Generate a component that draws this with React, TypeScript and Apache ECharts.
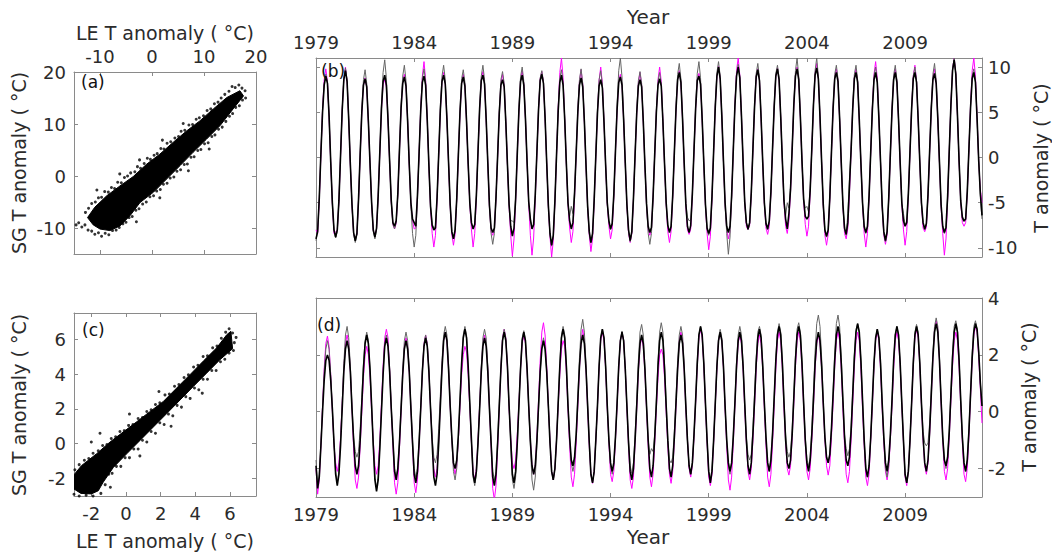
import React, { useEffect, useRef } from "react";
import * as echarts from "echarts";

const START_YEAR = 1979;
const yearTicks = [1979, 1984, 1989, 1994, 1999, 2004, 2009];
const aTicks = [-10, 0, 10, 20];
const bYTicks = [-10, -5, 0, 5, 10];
const cTicks = [-2, 0, 2, 4, 6];
const dYTicks = [-2, 0, 2, 4];

// Panel (b): monthly T anomaly, one row per year (Jan..Dec), 1979-2012
const bBlack: number[][] = [
  [-9.0, -8.2, -4.5, 0.5, 5.0, 8.0, 9.0, 8.2, 4.6, -0.5, -5.0, -8.0],
  [-8.8, -8.0, -4.8, 0.2, 5.2, 8.6, 9.6, 8.4, 4.2, -0.8, -5.2, -8.3],
  [-9.2, -8.4, -4.6, 0.4, 5.0, 8.0, 8.7, 7.8, 4.0, -0.6, -5.0, -8.0],
  [-8.8, -7.8, -4.2, 0.6, 5.4, 8.4, 9.1, 8.0, 4.2, -0.4, -4.8, -7.2],
  [-7.6, -7.0, -4.0, 0.8, 5.5, 8.2, 8.9, 7.9, 4.0, -0.8, -5.0, -6.8],
  [-7.2, -7.6, -4.2, 0.5, 5.2, 8.3, 9.0, 8.0, 4.1, -0.9, -5.4, -7.5],
  [-8.0, -7.8, -4.4, 0.4, 5.3, 8.4, 9.1, 8.1, 4.3, -0.5, -5.2, -8.2],
  [-9.0, -8.0, -4.6, 0.3, 5.0, 8.2, 8.9, 7.9, 4.0, -0.7, -5.0, -7.2],
  [-7.9, -7.4, -4.2, 0.6, 5.4, 8.5, 9.1, 8.1, 4.2, -0.6, -5.3, -7.8],
  [-8.3, -7.8, -4.4, 0.2, 4.9, 8.0, 8.6, 7.8, 3.9, -0.8, -5.2, -7.6],
  [-8.7, -7.8, -4.6, 0.4, 5.2, 8.4, 9.1, 8.0, 4.3, -0.5, -4.9, -6.8],
  [-7.9, -7.4, -4.1, 0.6, 5.3, 8.5, 9.2, 8.2, 4.4, -0.6, -5.3, -8.4],
  [-9.7, -8.6, -4.8, 0.3, 5.1, 8.3, 9.1, 8.0, 4.2, -0.7, -5.0, -7.0],
  [-7.9, -7.2, -4.0, 0.5, 5.0, 8.0, 8.8, 7.8, 4.0, -0.8, -5.4, -8.2],
  [-9.4, -8.4, -4.7, 0.2, 4.9, 7.9, 8.6, 7.7, 3.9, -0.8, -5.0, -7.0],
  [-7.9, -7.3, -4.1, 0.7, 5.3, 8.3, 8.9, 8.0, 4.2, -0.6, -5.2, -8.0],
  [-9.2, -8.2, -4.5, 0.3, 4.9, 7.9, 8.6, 7.8, 4.0, -0.8, -5.1, -7.6],
  [-8.3, -7.7, -4.3, 0.4, 5.0, 8.0, 8.7, 7.9, 4.0, -0.7, -5.0, -7.5],
  [-8.3, -7.6, -4.2, 0.6, 5.3, 8.6, 9.4, 8.3, 4.3, -0.6, -5.1, -7.6],
  [-8.3, -7.5, -4.0, 0.8, 5.4, 8.5, 9.0, 8.1, 4.2, -0.6, -5.2, -7.8],
  [-8.4, -7.8, -4.3, 0.7, 5.6, 9.0, 10.0, 8.7, 4.6, -0.4, -5.0, -7.6],
  [-8.3, -7.6, -4.2, 0.8, 5.7, 9.0, 10.0, 8.8, 4.6, -0.4, -4.9, -7.2],
  [-7.9, -7.2, -3.9, 0.9, 5.6, 8.9, 9.7, 8.5, 4.4, -0.5, -5.0, -7.3],
  [-7.9, -7.0, -3.8, 1.0, 5.6, 9.0, 9.8, 8.6, 4.5, -0.4, -4.8, -6.8],
  [-7.9, -6.2, -3.5, 1.0, 5.8, 9.0, 9.8, 8.6, 4.5, -0.4, -4.6, -6.5],
  [-6.8, -6.5, -3.6, 1.0, 5.8, 9.1, 9.9, 8.7, 4.5, -0.5, -5.2, -8.0],
  [-8.7, -8.0, -4.4, 0.6, 5.4, 8.7, 9.4, 8.4, 4.3, -0.6, -5.2, -7.8],
  [-8.5, -7.2, -3.2, 0.8, 5.4, 8.7, 9.4, 8.3, 4.2, -0.6, -5.0, -7.6],
  [-8.3, -7.6, -4.2, 0.6, 5.3, 8.6, 9.4, 8.3, 4.3, -0.5, -5.3, -8.2],
  [-9.2, -8.2, -4.5, 0.4, 5.2, 8.6, 9.4, 8.3, 4.2, -0.6, -5.0, -7.0],
  [-7.6, -7.2, -4.0, 0.7, 5.4, 8.7, 9.4, 8.3, 4.2, -0.5, -5.0, -7.2],
  [-7.9, -7.3, -4.1, 0.7, 5.4, 8.6, 9.3, 8.2, 4.3, -0.5, -5.2, -7.6],
  [-8.3, -7.7, -4.3, 0.8, 5.8, 9.6, 10.8, 9.2, 4.7, -0.4, -4.8, -6.6],
  [-7.0, -6.8, -3.8, 0.9, 5.5, 8.7, 9.4, 8.3, 4.3, -0.4, -4.0, -6.4],
];

const bGray: number[][] = [
  [-9.2, -8.0, -4.4, 0.6, 5.2, 8.2, 9.2, 8.3, 4.6, -0.5, -5.1, -8.1],
  [-8.9, -8.2, -4.7, 0.3, 5.3, 8.8, 9.9, 8.6, 4.3, -0.8, -5.3, -8.5],
  [-9.4, -8.5, -4.6, 0.5, 5.4, 8.6, 9.7, 8.2, 4.1, -0.6, -5.1, -8.2],
  [-9.0, -8.0, -4.3, 0.7, 5.8, 9.4, 10.8, 8.8, 4.4, -0.4, -4.9, -7.4],
  [-7.9, -7.2, -4.1, 0.9, 5.8, 9.0, 10.2, 8.5, 4.2, -0.8, -5.4, -8.4],
  [-9.9, -8.6, -4.4, 0.5, 5.4, 8.8, 9.8, 8.4, 4.2, -0.9, -5.4, -7.4],
  [-7.8, -7.6, -4.4, 0.5, 5.6, 9.0, 10.2, 8.6, 4.4, -0.5, -5.2, -8.2],
  [-9.0, -8.1, -4.6, 0.4, 5.3, 8.7, 9.7, 8.3, 4.1, -0.7, -5.1, -7.3],
  [-7.8, -7.4, -4.2, 0.7, 5.7, 9.0, 10.2, 8.6, 4.3, -0.6, -5.5, -8.4],
  [-9.6, -8.4, -4.5, 0.3, 5.2, 8.6, 9.5, 8.2, 4.0, -0.8, -5.3, -7.0],
  [-7.0, -7.2, -4.4, 0.5, 5.5, 8.9, 10.0, 8.4, 4.4, -0.5, -5.0, -7.0],
  [-7.8, -7.5, -4.2, 0.7, 5.5, 8.8, 9.6, 8.4, 4.4, -0.6, -5.4, -8.6],
  [-9.8, -8.7, -4.8, 0.4, 5.4, 8.8, 9.7, 8.3, 4.3, -0.7, -5.1, -6.5],
  [-5.4, -6.2, -3.8, 0.6, 5.4, 8.6, 9.8, 8.2, 4.1, -0.8, -5.4, -8.4],
  [-9.4, -8.5, -4.6, 0.3, 5.3, 8.6, 9.6, 8.1, 4.0, -0.8, -5.1, -7.2],
  [-8.0, -7.4, -4.2, 0.8, 5.9, 9.6, 11.0, 8.9, 4.4, -0.6, -5.3, -8.2],
  [-9.3, -8.3, -4.5, 0.4, 5.2, 8.5, 9.5, 8.2, 4.1, -0.8, -5.3, -8.4],
  [-9.6, -8.4, -4.4, 0.5, 5.2, 8.4, 9.4, 8.1, 4.0, -0.7, -5.1, -7.4],
  [-8.2, -7.7, -4.2, 0.7, 5.7, 9.2, 10.4, 8.7, 4.4, -0.6, -5.0, -6.6],
  [-7.0, -6.9, -3.9, 0.9, 5.8, 9.3, 10.6, 8.8, 4.3, -0.6, -5.2, -8.0],
  [-8.6, -7.9, -4.3, 0.8, 5.9, 9.4, 10.6, 9.0, 4.7, -0.4, -5.2, -8.4],
  [-10.7, -8.8, -4.5, 0.8, 5.8, 9.2, 10.3, 8.9, 4.6, -0.4, -4.9, -7.2],
  [-8.0, -7.3, -3.9, 1.0, 5.8, 9.3, 10.4, 8.8, 4.5, -0.5, -5.0, -7.4],
  [-8.0, -7.1, -3.8, 1.0, 5.8, 9.3, 10.2, 8.8, 4.5, -0.4, -4.8, -6.4],
  [-5.0, -5.6, -3.2, 1.2, 6.0, 9.6, 11.0, 9.0, 4.6, -0.4, -4.6, -5.6],
  [-5.4, -6.0, -3.4, 1.0, 6.0, 9.6, 11.0, 9.0, 4.5, -0.5, -5.3, -8.2],
  [-8.8, -8.1, -4.4, 0.7, 5.6, 9.2, 10.2, 8.7, 4.3, -0.6, -5.3, -8.0],
  [-8.6, -6.2, -2.3, 0.9, 5.6, 9.2, 10.2, 8.6, 4.2, -0.6, -5.1, -7.8],
  [-8.4, -7.7, -4.2, 0.7, 5.5, 9.0, 10.0, 8.5, 4.3, -0.5, -5.4, -8.4],
  [-9.3, -8.3, -4.5, 0.5, 5.4, 9.1, 10.2, 8.6, 4.2, -0.6, -5.1, -6.2],
  [-7.4, -7.1, -4.0, 0.8, 5.6, 9.0, 10.0, 8.5, 4.2, -0.5, -5.1, -7.3],
  [-8.0, -7.4, -4.1, 0.8, 5.7, 9.2, 10.4, 8.6, 4.3, -0.5, -5.3, -7.7],
  [-8.4, -7.8, -4.3, 0.9, 5.9, 9.8, 11.0, 9.3, 4.7, -0.4, -4.9, -6.8],
  [-7.1, -6.9, -3.8, 1.0, 5.6, 9.0, 9.8, 8.5, 4.3, -0.4, -4.2, -6.8],
];

const bMagenta: number[][] = [
  [-8.0, -8.4, -4.8, 0.3, 5.3, 8.6, 9.8, 8.4, 4.4, -0.6, -5.2, -8.4],
  [-8.2, -8.1, -4.9, 0.1, 5.2, 8.7, 10.0, 8.4, 4.1, -0.9, -5.4, -8.5],
  [-9.0, -8.5, -4.7, 0.2, 5.0, 8.0, 8.8, 7.8, 3.9, -0.7, -5.2, -8.1],
  [-8.6, -7.9, -4.3, 0.5, 5.3, 8.1, 8.6, 7.8, 4.1, -0.5, -5.0, -7.4],
  [-7.9, -7.3, -4.1, 0.7, 5.4, 8.3, 9.2, 8.0, 4.0, -0.9, -5.2, -7.0],
  [-7.9, -7.8, -4.3, 0.4, 5.5, 9.0, 10.6, 8.6, 4.1, -1.0, -5.6, -8.4],
  [-9.9, -8.6, -4.6, 0.3, 5.2, 8.5, 9.4, 8.2, 4.2, -0.6, -5.4, -8.5],
  [-9.7, -8.5, -4.7, 0.2, 4.9, 8.2, 9.2, 8.0, 3.9, -0.8, -5.2, -8.0],
  [-9.9, -8.4, -4.5, 0.5, 5.3, 8.6, 9.5, 8.2, 4.1, -0.7, -5.5, -8.2],
  [-8.6, -8.0, -4.5, 0.1, 4.9, 8.2, 9.2, 8.0, 3.9, -0.9, -5.4, -8.6],
  [-10.9, -9.0, -4.8, 0.3, 5.1, 8.5, 9.6, 8.1, 4.2, -0.6, -5.2, -8.6],
  [-10.8, -8.9, -4.6, 0.5, 5.3, 8.7, 9.5, 8.3, 4.3, -0.7, -5.5, -8.8],
  [-11.0, -9.2, -5.0, 0.2, 5.5, 9.4, 11.0, 8.8, 4.2, -0.8, -5.2, -7.8],
  [-9.4, -8.2, -4.4, 0.4, 5.1, 8.4, 9.7, 8.1, 3.9, -0.9, -5.6, -8.6],
  [-10.4, -9.0, -4.9, 0.1, 5.0, 8.5, 10.0, 8.2, 3.9, -0.9, -5.2, -7.6],
  [-9.0, -8.0, -4.4, 0.6, 5.2, 8.4, 9.2, 8.1, 4.1, -0.7, -5.4, -8.4],
  [-9.4, -8.4, -4.6, 0.2, 4.9, 8.2, 9.4, 8.0, 3.9, -0.9, -5.3, -8.0],
  [-8.6, -8.0, -4.4, 0.3, 5.1, 8.6, 10.0, 8.4, 4.0, -0.8, -5.2, -8.2],
  [-9.4, -8.2, -4.4, 0.5, 5.3, 8.7, 9.6, 8.3, 4.2, -0.7, -5.3, -8.0],
  [-8.5, -7.9, -4.2, 0.7, 5.4, 8.6, 9.3, 8.2, 4.1, -0.7, -5.4, -8.4],
  [-10.2, -8.7, -4.6, 0.6, 5.6, 9.0, 10.1, 8.8, 4.5, -0.5, -5.2, -8.0],
  [-9.0, -8.2, -4.4, 0.7, 5.9, 9.6, 11.0, 9.1, 4.5, -0.5, -5.0, -7.6],
  [-8.0, -7.5, -4.1, 0.8, 5.6, 9.0, 9.8, 8.6, 4.3, -0.6, -5.2, -7.8],
  [-8.5, -7.6, -4.0, 0.9, 5.6, 9.0, 9.9, 8.6, 4.4, -0.5, -5.0, -7.6],
  [-8.4, -7.0, -3.8, 0.9, 5.7, 9.1, 10.0, 8.7, 4.4, -0.5, -4.8, -7.4],
  [-8.7, -7.6, -3.9, 0.9, 5.8, 9.3, 10.4, 8.8, 4.4, -0.6, -5.4, -8.6],
  [-9.7, -8.5, -4.6, 0.5, 5.4, 8.9, 9.8, 8.5, 4.2, -0.7, -5.4, -8.4],
  [-9.0, -7.8, -4.0, 0.7, 5.4, 8.9, 9.8, 8.4, 4.1, -0.7, -5.2, -8.4],
  [-9.9, -8.4, -4.5, 0.5, 5.6, 9.2, 10.6, 8.8, 4.2, -0.6, -5.5, -8.6],
  [-9.6, -8.6, -4.7, 0.3, 5.3, 8.8, 9.8, 8.4, 4.1, -0.7, -5.2, -8.0],
  [-9.7, -8.2, -4.3, 0.6, 5.5, 9.0, 10.2, 8.5, 4.1, -0.6, -5.2, -7.8],
  [-8.2, -7.7, -4.3, 0.6, 5.4, 8.8, 9.8, 8.3, 4.2, -0.6, -5.4, -8.4],
  [-10.8, -9.0, -4.7, 0.7, 5.9, 9.8, 11.0, 9.3, 4.6, -0.5, -5.0, -7.2],
  [-7.6, -7.2, -4.0, 0.8, 5.8, 9.6, 11.0, 9.0, 4.4, -0.5, -3.6, -5.0],
];

// Panel (d): monthly T anomaly, one row per year (Jan..Dec), 1979-2012
const dBlack: number[][] = [
  [-1.9, -2.7, -2.3, -1.2, 0.0, 1.1, 1.8, 2.0, 1.8, 1.1, 0.1, -1.1],
  [-2.2, -2.6, -2.2, -1.2, 0.1, 1.4, 2.2, 2.5, 2.2, 1.4, 0.1, -1.0],
  [-1.9, -2.2, -1.9, -1.0, 0.3, 1.5, 2.4, 2.7, 2.4, 1.5, 0.2, -1.2],
  [-2.4, -2.8, -2.4, -1.3, 0.0, 1.3, 2.3, 2.6, 2.3, 1.4, 0.1, -1.0],
  [-2.1, -2.4, -2.0, -1.1, 0.1, 1.3, 2.2, 2.5, 2.2, 1.4, 0.1, -1.1],
  [-2.2, -2.5, -2.1, -1.1, 0.1, 1.4, 2.3, 2.6, 2.3, 1.4, 0.1, -1.1],
  [-2.3, -2.6, -2.2, -1.1, 0.2, 1.5, 2.5, 2.8, 2.5, 1.5, 0.2, -0.9],
  [-1.8, -2.0, -1.7, -0.8, 0.4, 1.7, 2.6, 2.9, 2.6, 1.6, 0.3, -1.0],
  [-2.2, -2.5, -2.1, -1.1, 0.1, 1.4, 2.3, 2.6, 2.3, 1.4, 0.1, -1.1],
  [-2.3, -2.6, -2.2, -1.1, 0.2, 1.5, 2.5, 2.8, 2.5, 1.6, 0.2, -1.0],
  [-2.2, -2.5, -2.1, -1.1, 0.2, 1.5, 2.5, 2.8, 2.5, 1.5, 0.2, -1.0],
  [-1.9, -2.2, -1.9, -1.0, 0.2, 1.4, 2.2, 2.5, 2.2, 1.4, 0.2, -1.1],
  [-2.1, -2.4, -2.0, -1.0, 0.3, 1.6, 2.6, 2.9, 2.6, 1.6, 0.2, -0.9],
  [-1.7, -1.9, -1.6, -0.8, 0.4, 1.6, 2.4, 2.7, 2.4, 1.5, 0.2, -1.1],
  [-2.2, -2.5, -2.1, -1.0, 0.2, 1.6, 2.6, 2.9, 2.6, 1.6, 0.2, -1.0],
  [-1.8, -2.1, -1.8, -0.9, 0.3, 1.6, 2.5, 2.8, 2.5, 1.5, 0.2, -1.1],
  [-2.1, -2.4, -2.0, -1.0, 0.2, 1.5, 2.4, 2.7, 2.4, 1.5, 0.2, -1.0],
  [-2.0, -2.3, -1.9, -0.9, 0.3, 1.6, 2.5, 2.8, 2.5, 1.5, 0.2, -1.0],
  [-2.0, -2.3, -1.9, -0.9, 0.3, 1.5, 2.4, 2.7, 2.4, 1.5, 0.2, -1.0],
  [-1.9, -2.2, -1.8, -0.8, 0.4, 1.7, 2.7, 3.0, 2.7, 1.7, 0.3, -1.0],
  [-2.1, -2.5, -2.1, -1.0, 0.3, 1.6, 2.5, 2.8, 2.5, 1.6, 0.2, -1.0],
  [-1.8, -2.1, -1.8, -0.9, 0.3, 1.6, 2.5, 2.8, 2.5, 1.6, 0.3, -1.0],
  [-1.9, -2.2, -1.8, -0.8, 0.4, 1.7, 2.6, 2.9, 2.6, 1.6, 0.3, -0.9],
  [-1.8, -2.1, -1.7, -0.8, 0.5, 1.8, 2.7, 3.0, 2.7, 1.7, 0.3, -1.0],
  [-1.8, -2.0, -1.7, -0.8, 0.5, 1.8, 2.7, 3.0, 2.7, 1.7, 0.3, -1.0],
  [-1.8, -2.1, -1.7, -0.8, 0.4, 1.7, 2.5, 2.8, 2.5, 1.6, 0.3, -0.9],
  [-1.6, -1.8, -1.5, -0.6, 0.6, 1.8, 2.7, 3.0, 2.7, 1.7, 0.4, -0.9],
  [-1.7, -1.9, -1.6, -0.7, 0.6, 1.9, 2.8, 3.1, 2.8, 1.8, 0.4, -1.0],
  [-2.0, -2.3, -1.9, -0.9, 0.4, 1.7, 2.6, 2.9, 2.6, 1.7, 0.3, -0.9],
  [-1.8, -2.1, -1.7, -0.8, 0.4, 1.8, 2.7, 3.0, 2.7, 1.7, 0.3, -1.0],
  [-2.2, -2.5, -2.1, -1.0, 0.3, 1.7, 2.7, 3.0, 2.7, 1.7, 0.3, -0.9],
  [-1.8, -2.1, -1.7, -0.7, 0.6, 1.9, 2.8, 3.1, 2.8, 1.8, 0.4, -0.9],
  [-1.7, -1.9, -1.6, -0.7, 0.6, 1.9, 2.8, 3.1, 2.8, 1.8, 0.4, -0.9],
  [-1.8, -2.1, -1.7, -0.7, 0.6, 1.9, 2.8, 3.1, 2.9, 2.1, 1.0, 0.2],
];

const dGray: number[][] = [
  [-1.7, -2.6, -2.2, -1.1, 0.2, 1.4, 2.2, 2.5, 2.2, 1.3, 0.1, -1.1],
  [-2.1, -2.5, -2.1, -1.0, 0.3, 1.7, 2.7, 3.0, 2.6, 1.6, 0.2, -0.9],
  [-1.4, -1.6, -1.4, -0.6, 0.5, 1.7, 2.5, 2.8, 2.5, 1.5, 0.2, -1.2],
  [-2.3, -2.7, -2.3, -1.2, 0.1, 1.4, 2.4, 2.7, 2.4, 1.5, 0.2, -1.0],
  [-2.0, -2.3, -2.0, -1.0, 0.2, 1.5, 2.5, 2.8, 2.5, 1.5, 0.2, -1.0],
  [-2.0, -2.3, -2.0, -1.0, 0.2, 1.5, 2.4, 2.7, 2.4, 1.5, 0.2, -0.9],
  [-1.6, -1.8, -1.5, -0.6, 0.6, 1.8, 2.7, 3.0, 2.7, 1.7, 0.3, -1.0],
  [-2.1, -2.4, -2.0, -1.0, 0.4, 1.7, 2.7, 3.0, 2.7, 1.6, 0.2, -1.1],
  [-2.3, -2.6, -2.2, -1.1, 0.2, 1.6, 2.6, 2.9, 2.6, 1.6, 0.2, -1.0],
  [-2.1, -2.4, -2.1, -1.0, 0.3, 1.6, 2.6, 2.9, 2.6, 1.6, 0.2, -1.1],
  [-2.4, -2.7, -2.3, -1.2, 0.2, 1.6, 2.6, 2.85, 2.5, 1.5, 0.1, -1.2],
  [-2.4, -2.76, -2.3, -1.2, 0.1, 1.4, 2.3, 2.6, 2.3, 1.4, 0.2, -1.0],
  [-2.1, -2.4, -2.0, -1.0, 0.3, 1.7, 2.7, 3.0, 2.7, 1.7, 0.3, -0.9],
  [-1.8, -2.1, -1.8, -0.8, 0.5, 1.9, 2.9, 3.25, 2.8, 1.7, 0.3, -1.0],
  [-2.2, -2.5, -2.1, -1.0, 0.2, 1.6, 2.6, 2.9, 2.6, 1.6, 0.2, -1.0],
  [-1.9, -2.2, -1.9, -0.9, 0.3, 1.6, 2.5, 2.84, 2.5, 1.5, 0.2, -1.0],
  [-1.9, -2.17, -1.8, -0.8, 0.4, 1.8, 2.8, 3.07, 2.7, 1.6, 0.2, -1.0],
  [-1.5, -1.3, -1.4, -0.8, 0.4, 1.8, 2.8, 3.13, 2.8, 1.7, 0.3, -1.0],
  [-1.7, -1.8, -1.6, -0.7, 0.5, 1.8, 2.7, 3.0, 2.7, 1.7, 0.3, -1.0],
  [-1.9, -2.2, -1.8, -0.8, 0.4, 1.8, 2.7, 3.0, 2.7, 1.7, 0.3, -1.0],
  [-2.1, -2.4, -2.0, -1.0, 0.3, 1.6, 2.6, 2.9, 2.6, 1.6, 0.2, -1.0],
  [-1.9, -2.2, -1.8, -0.8, 0.4, 1.8, 2.7, 3.0, 2.7, 1.7, 0.3, -0.9],
  [-1.5, -1.7, -1.5, -0.6, 0.6, 1.9, 2.8, 3.0, 2.7, 1.7, 0.3, -1.0],
  [-1.8, -2.1, -1.7, -0.7, 0.5, 1.9, 2.8, 3.1, 2.8, 1.8, 0.4, -0.8],
  [-1.4, -1.6, -1.4, -0.6, 0.6, 2.0, 2.9, 3.13, 2.8, 1.8, 0.4, -0.9],
  [-1.7, -1.9, -1.6, -0.6, 0.7, 2.1, 3.1, 3.4, 3.0, 1.9, 0.4, -0.9],
  [-1.6, -1.8, -1.5, -0.6, 0.7, 2.1, 3.1, 3.4, 3.0, 1.9, 0.4, -0.8],
  [-1.3, -1.55, -1.3, -0.5, 0.7, 2.0, 2.9, 3.1, 2.8, 1.8, 0.4, -1.0],
  [-2.0, -2.3, -1.9, -0.9, 0.4, 1.7, 2.6, 2.9, 2.6, 1.7, 0.3, -0.9],
  [-2.0, -2.3, -1.9, -0.9, 0.4, 1.8, 2.7, 3.0, 2.7, 1.7, 0.3, -1.0],
  [-2.2, -2.5, -2.1, -1.0, 0.4, 1.8, 2.8, 3.07, 2.8, 1.7, 0.3, -0.7],
  [-1.1, -1.2, -1.1, -0.4, 0.8, 2.1, 3.0, 3.3, 3.0, 1.9, 0.5, -0.8],
  [-1.7, -2.0, -1.6, -0.6, 0.7, 2.1, 3.0, 3.2, 2.9, 1.9, 0.4, -0.9],
  [-1.8, -2.1, -1.7, -0.6, 0.7, 2.1, 3.0, 3.2, 2.9, 2.1, 1.0, 0.2],
];

const dMagenta: number[][] = [
  [-2.0, -2.9, -2.4, -1.2, 0.2, 1.5, 2.4, 2.66, 2.3, 1.3, 0.0, -1.2],
  [-1.8, -2.1, -1.8, -0.9, 0.3, 1.5, 2.4, 2.7, 2.4, 1.4, 0.1, -1.3],
  [-2.4, -2.7, -2.3, -1.2, 0.0, 1.2, 2.0, 2.3, 2.0, 1.2, 0.0, -1.0],
  [-1.9, -2.2, -1.9, -1.0, 0.3, 1.6, 2.6, 2.9, 2.6, 1.5, 0.1, -1.2],
  [-2.5, -2.9, -2.5, -1.3, 0.0, 1.3, 2.3, 2.6, 2.3, 1.4, 0.1, -1.2],
  [-2.5, -2.85, -2.4, -1.2, 0.1, 1.4, 2.4, 2.7, 2.4, 1.4, 0.1, -1.0],
  [-2.0, -2.3, -2.0, -1.0, 0.3, 1.6, 2.5, 2.8, 2.5, 1.5, 0.2, -1.0],
  [-1.9, -2.2, -1.9, -1.0, 0.2, 1.3, 2.0, 2.3, 2.1, 1.3, 0.1, -1.1],
  [-2.1, -2.4, -2.0, -1.0, 0.2, 1.5, 2.4, 2.7, 2.4, 1.5, 0.1, -1.2],
  [-2.7, -3.1, -2.6, -1.3, 0.1, 1.5, 2.6, 2.9, 2.6, 1.5, 0.1, -0.9],
  [-1.8, -2.0, -1.7, -0.8, 0.3, 1.5, 2.4, 2.7, 2.4, 1.5, 0.2, -1.0],
  [-1.9, -2.2, -1.9, -0.9, 0.4, 1.8, 2.8, 3.13, 2.7, 1.6, 0.2, -1.0],
  [-2.1, -2.4, -2.0, -1.0, 0.2, 1.3, 2.2, 2.5, 2.3, 1.4, 0.1, -1.2],
  [-2.3, -2.64, -2.2, -1.1, 0.2, 1.5, 2.5, 2.9, 2.5, 1.5, 0.1, -1.2],
  [-2.2, -2.52, -2.1, -1.0, 0.2, 1.5, 2.5, 2.8, 2.5, 1.5, 0.1, -1.1],
  [-2.2, -2.46, -2.1, -1.0, 0.2, 1.5, 2.5, 2.8, 2.5, 1.5, 0.1, -1.2],
  [-2.4, -2.7, -2.3, -1.1, 0.1, 1.4, 2.3, 2.6, 2.3, 1.4, 0.1, -1.2],
  [-2.3, -2.64, -2.2, -1.1, 0.1, 1.2, 2.0, 2.2, 2.0, 1.2, 0.0, -1.2],
  [-2.2, -2.52, -2.1, -1.0, 0.2, 1.5, 2.5, 2.8, 2.5, 1.5, 0.1, -1.0],
  [-2.0, -2.3, -1.9, -0.9, 0.3, 1.6, 2.6, 2.9, 2.6, 1.6, 0.2, -1.1],
  [-2.3, -2.6, -2.2, -1.1, 0.2, 1.5, 2.5, 2.8, 2.5, 1.5, 0.1, -1.2],
  [-2.4, -2.76, -2.3, -1.1, 0.2, 1.5, 2.4, 2.7, 2.4, 1.5, 0.1, -1.1],
  [-2.1, -2.4, -2.0, -1.0, 0.2, 1.5, 2.4, 2.7, 2.4, 1.5, 0.1, -1.2],
  [-2.3, -2.64, -2.2, -1.1, 0.2, 1.5, 2.5, 2.8, 2.5, 1.5, 0.1, -1.1],
  [-2.0, -2.23, -1.9, -0.9, 0.3, 1.6, 2.5, 2.8, 2.5, 1.5, 0.2, -1.1],
  [-2.1, -2.4, -2.0, -1.0, 0.2, 1.5, 2.4, 2.7, 2.4, 1.5, 0.2, -1.0],
  [-1.9, -2.23, -1.9, -0.9, 0.3, 1.6, 2.5, 2.8, 2.5, 1.5, 0.1, -1.2],
  [-2.2, -2.5, -2.1, -1.0, 0.3, 1.6, 2.5, 2.8, 2.5, 1.5, 0.1, -1.2],
  [-2.3, -2.6, -2.2, -1.0, 0.2, 1.6, 2.5, 2.8, 2.5, 1.5, 0.1, -1.1],
  [-2.1, -2.4, -2.0, -1.0, 0.2, 1.5, 2.5, 2.8, 2.5, 1.6, 0.2, -1.1],
  [-2.3, -2.6, -2.1, -1.0, 0.3, 1.6, 2.6, 2.9, 2.6, 1.6, 0.2, -1.0],
  [-1.9, -2.2, -1.8, -0.8, 0.5, 1.9, 2.9, 3.2, 2.9, 1.8, 0.3, -1.0],
  [-2.1, -2.4, -2.0, -0.9, 0.4, 1.6, 2.5, 2.8, 2.5, 1.6, 0.2, -1.1],
  [-2.2, -2.46, -2.0, -0.9, 0.5, 1.8, 2.7, 3.0, 2.8, 1.9, 0.8, -0.4],
];

// Panel (a): dense core of the LE vs SG cloud (outline) and sparse points around it
const aCoreOutline: number[][] = [
  [-12.4, -8.0], [-11.0, -6.0], [-8.7, -3.8], [-6.15, -1.9], [-3.6, -0.1], [-1.0, 2.3],
  [1.5, 4.2], [4.1, 6.5], [6.7, 8.7], [9.2, 10.6], [11.8, 12.9], [14.4, 15.1], [16.9, 16.4],
  [17.6, 15.4], [15.6, 12.9], [13.1, 9.7], [10.5, 7.1], [7.9, 4.55], [5.4, 2.0], [2.8, -0.6],
  [0.3, -3.1], [-2.3, -5.1], [-4.2, -7.6], [-6.15, -9.6], [-8.1, -10.5], [-10.0, -10.2], [-11.3, -9.4],
];
const aPoints: number[][] = [
  [-12.8, -7.0], [-12.2, -6.2], [-11.6, -5.3], [-10.9, -5.0], [-10.3, -4.2], [-9.7, -4.1],
  [-9.1, -3.0], [-8.4, -3.1], [-7.8, -2.2], [-7.2, -2.4], [-6.6, -1.2], [-5.9, -1.3],
  [-5.3, -0.3], [-4.7, 0.0], [-4.1, 0.6], [-3.3, 0.8], [-2.8, 1.8], [-2.2, 1.5],
  [-1.5, 2.4], [-0.9, 3.4], [-0.3, 3.2], [0.4, 4.0], [1.0, 4.3], [1.7, 5.3], [2.3, 5.2],
  [2.9, 6.3], [3.6, 6.6], [4.4, 7.3], [5.1, 7.6], [5.6, 8.6], [6.3, 8.8], [7.1, 9.8],
  [7.8, 9.9], [8.5, 10.9], [9.1, 11.2], [9.9, 11.6], [10.6, 12.6], [11.3, 12.9],
  [12.0, 13.9], [12.7, 14.2], [13.3, 15.0], [14.0, 15.7], [14.8, 16.3], [15.4, 17.2],
  [16.0, 17.0], [16.7, 17.5], [17.3, 16.9], [17.9, 16.4],
  [-6.2, 0.4], [-2.4, 3.1], [2.0, 6.9], [6.0, 10.1], [-10.6, -2.7],
  [-14.1, -9.0], [-14.6, -9.4], [-13.5, -9.8], [-12.9, -9.4], [-12.3, -10.4], [-11.6, -10.6],
  [-11.0, -11.2], [-10.3, -10.9], [-9.7, -11.6], [-9.0, -11.0], [-8.3, -11.3], [-7.6, -10.5],
  [-6.9, -10.4], [-6.3, -9.9], [-5.6, -9.2], [-5.0, -8.9], [-4.4, -8.0], [-3.8, -7.8],
  [-3.1, -6.6], [-2.5, -6.3], [-1.8, -5.4], [-1.1, -5.0], [-0.4, -4.0], [0.3, -3.8],
  [0.9, -2.9], [1.6, -2.6], [2.2, -1.6], [2.9, -1.4], [3.5, -0.4], [4.2, -0.2],
  [4.8, 0.9], [5.5, 1.2], [6.2, 2.2], [6.8, 2.3], [7.5, 3.6], [8.1, 3.7], [8.8, 4.9],
  [9.4, 5.1], [10.1, 6.2], [10.8, 6.4], [11.5, 7.6], [12.1, 7.9], [12.8, 9.0],
  [13.5, 9.4], [14.2, 10.5], [14.9, 11.5], [15.5, 12.0], [16.1, 13.2], [16.8, 13.5],
  [17.4, 14.6], [18.0, 15.0],
  [1.5, -4.2], [7.0, 1.0], [-3.0, -8.8], [11.0, 5.2],
];

// Panel (c): dense core outline and sparse points around it
const cCoreOutline: number[][] = [
  [-3.1, -1.9], [-2.56, -1.25], [-1.69, -0.57], [-0.92, 0.1], [-0.15, 0.68], [0.62, 1.26],
  [1.38, 1.84], [2.15, 2.42], [2.92, 3.19], [3.69, 3.96], [4.46, 4.74], [5.23, 5.5],
  [5.81, 6.25], [6.05, 6.45], [6.15, 5.45], [5.42, 4.82], [4.65, 4.05], [3.88, 3.28],
  [3.12, 2.51], [2.35, 1.73], [1.58, 0.96], [0.81, 0.19], [0.04, -0.58], [-0.73, -1.36],
  [-1.31, -2.2], [-1.6, -2.7], [-2.0, -2.88], [-2.6, -2.85], [-3.0, -2.6], [-3.1, -2.2],
];
const cPoints: number[][] = [
  [-2.95, -1.5], [-2.7, -1.2], [-2.4, -0.95], [-2.15, -0.85], [-1.9, -0.55], [-1.6, -0.4],
  [-1.35, -0.1], [-1.1, -0.05], [-0.85, 0.3], [-0.6, 0.4], [-0.35, 0.7], [-0.1, 0.75],
  [0.15, 1.05], [0.4, 1.1], [0.7, 1.45], [0.95, 1.5], [1.2, 1.85], [1.45, 1.95], [1.7, 2.25],
  [1.95, 2.35], [2.25, 2.8], [2.5, 2.85], [2.8, 3.3], [3.05, 3.4], [3.35, 3.8], [3.6, 3.95],
  [3.9, 4.4], [4.15, 4.5], [4.45, 5.0], [4.7, 5.05], [5.0, 5.5], [5.25, 5.6], [5.5, 6.05],
  [5.75, 6.4], [5.95, 6.6], [6.15, 6.35], [6.35, 6.1], [6.25, 5.8],
  [-2.0, 0.1], [0.2, 1.7], [1.9, 3.0], [-1.5, 0.6],
  [-3.0, -2.9], [-2.7, -3.0], [-2.3, -2.95], [-1.9, -3.0], [-1.45, -2.85], [-1.2, -2.35],
  [-1.0, -1.75], [-0.8, -1.7], [-0.55, -1.3], [-0.3, -1.3], [-0.05, -0.8], [0.2, -0.8],
  [0.45, -0.3], [0.7, -0.3], [0.95, 0.2], [1.2, 0.1], [1.45, 0.7], [1.7, 0.6], [1.95, 1.2],
  [2.2, 1.1], [2.45, 1.7], [2.7, 1.6], [2.95, 2.2], [3.2, 2.1], [3.45, 2.7], [3.7, 2.6],
  [3.95, 3.2], [4.2, 3.1], [4.45, 3.7], [4.7, 3.7], [4.95, 4.2], [5.2, 4.2], [5.45, 4.7],
  [5.7, 4.85], [5.95, 5.2], [6.2, 5.35],
  [0.8, -0.7], [2.6, 1.0], [4.4, 2.9], [-0.9, -2.5],
];

const AXIS_COLOR = "#8a8a8a";
const LABEL_COLOR = "#2b2b2b";
const FONT = "DejaVu Sans";

function monthly(rows: number[][]): number[][] {
  const out: number[][] = [];
  rows.forEach((row, yi) => {
    row.forEach((v, mi) => {
      out.push([START_YEAR + yi + mi / 12, v]);
    });
  });
  return out;
}

function axis(
  gridIndex: number,
  position: string,
  min: number,
  max: number,
  ticks: number[],
  showLabel: boolean,
  margin: number
) {
  return {
    type: "value",
    gridIndex,
    position,
    min,
    max,
    axisLine: { show: true, onZero: false, lineStyle: { color: AXIS_COLOR, width: 1 } },
    axisTick: {
      show: true,
      inside: true,
      length: 4,
      customValues: ticks,
      lineStyle: { color: AXIS_COLOR, width: 1 },
    },
    axisLabel: {
      show: showLabel,
      customValues: ticks,
      color: LABEL_COLOR,
      fontSize: 18,
      fontFamily: FONT,
      margin,
      formatter: (v: number) => String(v),
    },
    splitLine: { show: false },
  };
}

function cloudSeries(outline: number[][], xi: number, yi: number) {
  return {
    type: "custom",
    xAxisIndex: xi,
    yAxisIndex: yi,
    clip: true,
    silent: true,
    data: [outline[0]],
    renderItem: (_p: any, api: any) => ({
      type: "polygon",
      shape: { points: outline.map((pt) => api.coord(pt)) },
      style: { fill: "#000", stroke: "#000", lineWidth: 1 },
    }),
  };
}

function pointSeries(points: number[][], xi: number, yi: number) {
  return {
    type: "scatter",
    xAxisIndex: xi,
    yAxisIndex: yi,
    data: points,
    symbol: "circle",
    symbolSize: 3,
    itemStyle: { color: "#000" },
    silent: true,
  };
}

function lineSeries(rows: number[][], xi: number, yi: number, color: string, width: number) {
  return {
    type: "line",
    xAxisIndex: xi,
    yAxisIndex: yi,
    data: monthly(rows),
    showSymbol: false,
    symbol: "none",
    clip: true,
    lineStyle: { color, width },
    silent: true,
  };
}

function titleText(x: number, y: number, text: string, size: number, rotate = 0) {
  return {
    type: "text",
    x,
    y,
    rotation: rotate,
    style: {
      text,
      fill: LABEL_COLOR,
      font: `${size}px "${FONT}"`,
      align: "center",
      verticalAlign: "middle",
    },
  };
}

function panelLabel(x: number, y: number, text: string) {
  return {
    type: "text",
    x,
    y,
    z: 100,
    style: {
      text,
      fill: "#111",
      font: `17px "${FONT}"`,
      align: "left",
      verticalAlign: "middle",
    },
  };
}

export default function App() {
  const ref = useRef<HTMLDivElement>(null);

  useEffect(() => {
    if (!ref.current) return;
    const chart = echarts.init(ref.current, undefined, { renderer: "svg" });
    const tEnd = START_YEAR + (bBlack.length * 12 - 1) / 12;

    const option: any = {
      animation: false,
      backgroundColor: "#ffffff",
      textStyle: { fontFamily: FONT },
      grid: [
        { left: 74, top: 72, width: 182, height: 182 },
        { left: 316, top: 58, width: 666, height: 199 },
        { left: 74, top: 313, width: 182, height: 183 },
        { left: 316, top: 298, width: 666, height: 199 },
      ],
      xAxis: [
        axis(0, "top", -15, 20, aTicks, true, 7),
        axis(0, "bottom", -15, 20, aTicks, false, 7),
        axis(1, "top", START_YEAR, tEnd, yearTicks, true, 7),
        axis(1, "bottom", START_YEAR, tEnd, yearTicks, false, 7),
        axis(2, "bottom", -3, 7.5, cTicks, true, 8),
        axis(2, "top", -3, 7.5, cTicks, false, 8),
        axis(3, "bottom", START_YEAR, tEnd, yearTicks, true, 8),
        axis(3, "top", START_YEAR, tEnd, yearTicks, false, 8),
      ],
      yAxis: [
        axis(0, "left", -15, 20, aTicks, true, 8),
        axis(0, "right", -15, 20, aTicks, false, 8),
        axis(1, "right", -11, 11, bYTicks, true, 6),
        axis(1, "left", -11, 11, bYTicks, false, 6),
        axis(2, "left", -3, 7.5, cTicks, true, 8),
        axis(2, "right", -3, 7.5, cTicks, false, 8),
        axis(3, "right", -3, 4, dYTicks, true, 6),
        axis(3, "left", -3, 4, dYTicks, false, 6),
      ],
      series: [
        cloudSeries(aCoreOutline, 0, 0),
        pointSeries(aPoints, 0, 0),
        lineSeries(bMagenta, 2, 2, "#ff00ff", 1),
        lineSeries(bGray, 2, 2, "#666666", 1),
        lineSeries(bBlack, 2, 2, "#000000", 1.6),
        cloudSeries(cCoreOutline, 4, 4),
        pointSeries(cPoints, 4, 4),
        lineSeries(dMagenta, 6, 6, "#ff00ff", 1),
        lineSeries(dGray, 6, 6, "#666666", 1),
        lineSeries(dBlack, 6, 6, "#000000", 1.6),
      ],
      graphic: [
        titleText(165, 33, "LE T anomaly ( °C)", 19),
        titleText(19, 163, "SG T anomaly ( °C)", 19, Math.PI / 2),
        titleText(648, 17, "Year", 20),
        titleText(1041, 158, "T anomaly ( °C)", 19, Math.PI / 2),
        titleText(19, 405, "SG T anomaly ( °C)", 19, Math.PI / 2),
        titleText(165, 541, "LE T anomaly ( °C)", 19),
        titleText(648, 537, "Year", 20),
        titleText(1029, 397, "T anomaly ( °C)", 19, Math.PI / 2),
        panelLabel(81, 82, "(a)"),
        panelLabel(321, 71, "(b)"),
        panelLabel(82, 330, "(c)"),
        panelLabel(317, 325, "(d)"),
      ],
    };

    chart.setOption(option);
    return () => chart.dispose();
  }, []);

  return (
    <div
      ref={ref}
      style={{ position: "fixed", left: 0, top: 0, width: 1052, height: 552, background: "#fff" }}
    />
  );
}
